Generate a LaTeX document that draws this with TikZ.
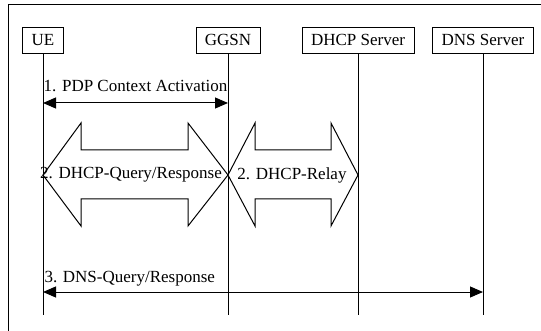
\documentclass[tikz,border=0pt]{standalone}
\usepackage{fontspec}
\setmainfont{Liberation Serif}
\usetikzlibrary{arrows.meta,positioning}

\begin{document}
\begin{tikzpicture}[
            x=1pt, y=-1pt,
            every node/.style={font=\fontsize{17}{20}\selectfont},
            actor/.style={draw, minimum height=26pt, inner xsep=9pt, inner ysep=0pt},
            lifeline/.style={line width=1pt},
            msg/.style={{Triangle[length=13pt,width=11pt]}-{Triangle[length=13pt,width=11pt]}, line width=1pt},
            bigarrow/.style={draw, fill=white, line width=1pt, line join=miter},
            lbl/.style={inner sep=1pt}
        ]
        \useasboundingbox (0,0) rectangle (541,331);

        % frame
        \draw[line width=1pt] (541,5) -- (8,5) -- (8,331);

        \node[actor] (ue) at (43,40) {UE};
        \node[actor] (ggsn) at (228,40) {GGSN};
        \node[actor] (dhcp) at (358,40) {DHCP Server};
        \node[actor] (dns) at (483,40) {DNS Server};

        \coordinate (bottom) at (0,315);
        \coordinate (m1) at (0,103);
        \coordinate (m2) at (0,175);
        \coordinate (m3) at (0,292);

        % lifelines
        \draw[lifeline] (ue) -- (ue |- bottom);
        \draw[lifeline] (ggsn) -- (ggsn |- bottom);
        \draw[lifeline] (dhcp) -- (dhcp |- bottom);
        \draw[lifeline] (dns) -- (dns |- bottom);

        % 1. PDP context
        \draw[msg] (ue |- m1) -- node[above=10pt, lbl] (pdp) {1. PDP Context Activation} (ggsn |- m1);

        % 2. DHCP
        \draw[bigarrow] (ue |- m2) -- (81,123) -- (81,150) -- (188,150) -- (188,123) -- (ggsn |- m2)
            -- (188,226) -- (188,199) -- (81,199) -- (81,226) -- cycle;
        \draw[bigarrow] (ggsn |- m2) -- (255,123) -- (255,150) -- (331,150) -- (331,123) -- (dhcp |- m2)
            -- (331,226) -- (331,199) -- (255,199) -- (255,226) -- cycle;
        \node[lbl] (query) at (131,175) {2. DHCP-Query/Response};
        \node[lbl] (relay) at (292,175) {2. DHCP-Relay};

        % 3. DNS
        \draw[msg] (ue |- m3) -- node[pos=0, above right=4pt and 0pt, lbl] (dnsq) {3. DNS-Query/Response} (dns |- m3);

    \end{tikzpicture}
\end{document}
